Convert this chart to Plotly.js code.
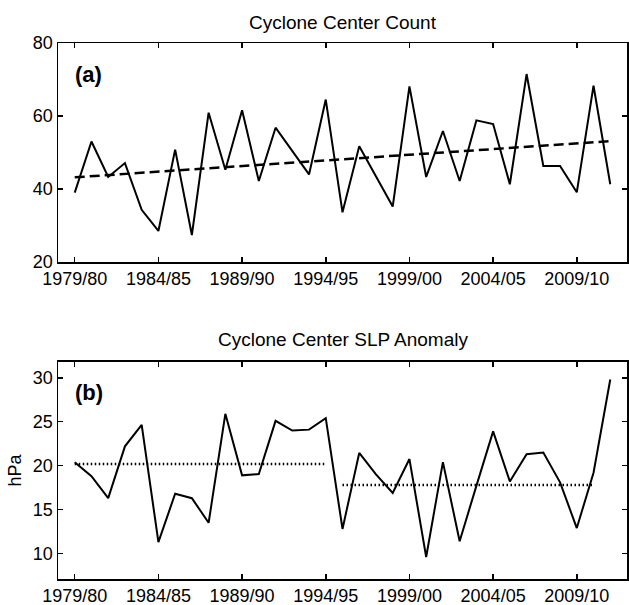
<!DOCTYPE html>
<html>
<head>
<meta charset="utf-8">
<script src="https://cdn.plot.ly/plotly-3.0.1.min.js"></script>
<style>
  html, body { margin: 0; padding: 0; background: #fff; }
  #chart { width: 629px; height: 605px; }
</style>
</head>
<body>
<div id="chart"></div>
<script>
// Winter seasons 1979/80 .. 2011/12, keyed by the starting year
const seasonStart = [1979, 1980, 1981, 1982, 1983, 1984, 1985, 1986, 1987, 1988, 1989,
  1990, 1991, 1992, 1993, 1994, 1995, 1996, 1997, 1998, 1999, 2000, 2001, 2002,
  2003, 2004, 2005, 2006, 2007, 2008, 2009, 2010, 2011];

// (a) number of cyclone centers per season
const centerCount = [39, 53, 43.3, 47.1, 34.3, 28.5, 50.8, 27.4, 60.9, 45.3, 61.6,
  42.2, 56.8, 50.5, 44, 64.5, 33.6, 51.7, 43.3, 35.2, 68.1, 43.3, 55.9, 42.2,
  58.8, 57.8, 41.3, 71.5, 46.3, 46.3, 39.1, 68.3, 41.3];

// (a) linear trend, end points
const trendYears = [1979, 2011];
const trendCount = [43.2, 53.1];

// (b) SLP anomaly of cyclone centers (hPa)
const slpAnomaly = [20.4, 18.8, 16.3, 22.2, 24.65, 11.3, 16.8, 16.3, 13.5, 25.9, 18.9,
  19.05, 25.1, 24.0, 24.1, 25.4, 12.8, 21.45, 19.0, 16.9, 20.75, 9.6, 20.4, 11.4,
  17.7, 23.9, 18.2, 21.3, 21.5, 18.1, 12.9, 19.2, 29.8];

// (b) period means
const periodOneYears = [1979, 1994];
const periodOneMean = 20.2;
const periodTwoYears = [1995, 2010];
const periodTwoMean = 17.8;

// axis ticks
const tickYears = [1979, 1984, 1989, 1994, 1999, 2004, 2009];
const tickLabels = ['1979/80', '1984/85', '1989/90', '1994/95', '1999/00', '2004/05', '2009/10'];
const countTicks = [20, 40, 60, 80];
const slpTicks = [10, 15, 20, 25, 30];

const FONT = 'Liberation Sans, Arial, Helvetica, sans-serif';

const traces = [
  { x: seasonStart, y: centerCount, xaxis: 'x', yaxis: 'y', mode: 'lines',
    line: { color: '#000', width: 2 }, hoverinfo: 'skip' },
  { x: trendYears, y: trendCount, xaxis: 'x', yaxis: 'y', mode: 'lines',
    line: { color: '#000', width: 2.5, dash: '10px,5px' }, hoverinfo: 'skip' },
  { x: seasonStart, y: slpAnomaly, xaxis: 'x2', yaxis: 'y2', mode: 'lines',
    line: { color: '#000', width: 2 }, hoverinfo: 'skip' },
  { x: periodOneYears, y: periodOneYears.map(() => periodOneMean), xaxis: 'x2', yaxis: 'y2',
    mode: 'lines', line: { color: '#000', width: 2.5, dash: '1.5px,2.5px' }, hoverinfo: 'skip' },
  { x: periodTwoYears, y: periodTwoYears.map(() => periodTwoMean), xaxis: 'x2', yaxis: 'y2',
    mode: 'lines', line: { color: '#000', width: 2.5, dash: '1.5px,2.5px' }, hoverinfo: 'skip' }
];

function xAxis(anchor) {
  return {
    anchor: anchor, domain: [0, 1], range: [1978, 2012],
    tickmode: 'array', tickvals: tickYears, ticktext: tickLabels,
    ticks: 'inside', ticklen: 5, tickwidth: 1.5, tickcolor: '#000',
    showline: true, linecolor: '#000', linewidth: 1.5, mirror: 'ticks',
    showgrid: false, zeroline: false,
    tickfont: { family: FONT, size: 18, color: '#000' }
  };
}

function yAxis(anchor, domain, range, ticks) {
  return {
    anchor: anchor, domain: domain, range: range,
    tickmode: 'array', tickvals: ticks,
    ticks: 'inside', ticklen: 5, tickwidth: 1.5, tickcolor: '#000',
    showline: true, linecolor: '#000', linewidth: 1.5, mirror: 'ticks',
    showgrid: false, zeroline: false,
    tickfont: { family: FONT, size: 18, color: '#000' }
  };
}

const layout = {
  width: 629, height: 605,
  margin: { l: 58, r: 2, t: 43, b: 26 },
  paper_bgcolor: '#fff', plot_bgcolor: '#fff',
  showlegend: false,
  font: { family: FONT, color: '#000' },
  xaxis: xAxis('y'),
  yaxis: yAxis('x', [0.5914, 1], [20, 80], countTicks),
  xaxis2: xAxis('y2'),
  yaxis2: Object.assign(yAxis('x2', [0, 0.4049], [7.1, 31.8], slpTicks), {
    title: { text: 'hPa', font: { family: FONT, size: 18, color: '#000' }, standoff: 6 }
  }),
  annotations: [
    { text: 'Cyclone Center Count', xref: 'paper', yref: 'paper', x: 0.5, y: 1,
      yshift: 21, xanchor: 'center', yanchor: 'middle', showarrow: false,
      font: { family: FONT, size: 19, color: '#000' } },
    { text: 'Cyclone Center SLP Anomaly', xref: 'paper', yref: 'paper', x: 0.5, y: 0.4049,
      yshift: 22, xanchor: 'center', yanchor: 'middle', showarrow: false,
      font: { family: FONT, size: 19, color: '#000' } },
    { text: '<b>(a)</b>', xref: 'paper', yref: 'paper', x: 0, y: 1,
      xshift: 15, yshift: -31, xanchor: 'left', yanchor: 'middle', showarrow: false,
      font: { family: FONT, size: 22, color: '#000' } },
    { text: '<b>(b)</b>', xref: 'paper', yref: 'paper', x: 0, y: 0.4049,
      xshift: 15, yshift: -31, xanchor: 'left', yanchor: 'middle', showarrow: false,
      font: { family: FONT, size: 22, color: '#000' } }
  ]
};

Plotly.newPlot('chart', traces, layout, { displayModeBar: false, staticPlot: true });
</script>
</body>
</html>
